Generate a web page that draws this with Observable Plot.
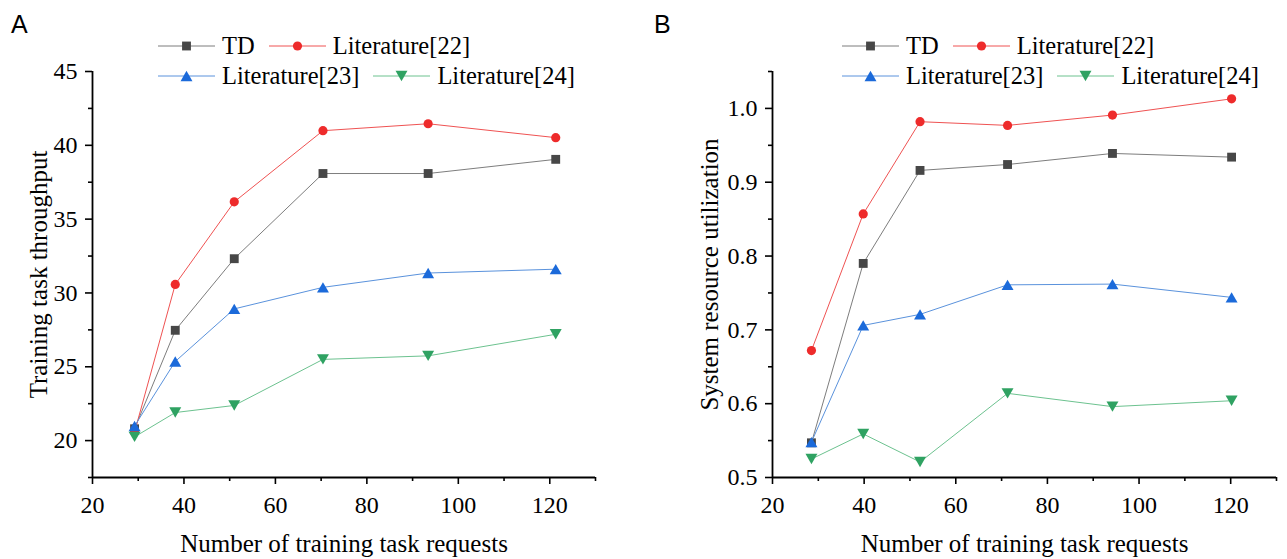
<!DOCTYPE html>
<html><head><meta charset="utf-8">
<script src="https://cdn.jsdelivr.net/npm/d3@7"></script>
<script src="https://cdn.jsdelivr.net/npm/@observablehq/plot@0.6"></script>
<style>
body{margin:0;background:#fff;}
#wrap{position:relative;width:1287px;height:559px;overflow:hidden;background:#fff;}
.panel{position:absolute;top:0;height:559px;}
#wrap svg text{font-family:"Liberation Serif","Times New Roman",serif !important;}
.tag{position:absolute;top:12px;font-family:"Liberation Sans",Arial,sans-serif;font-size:25px;line-height:1;color:#000;}
.legend{position:absolute;top:31px;font-family:"Liberation Serif","Times New Roman",serif;font-size:24.5px;line-height:1;color:#000;}
.legend span{font-family:"Liberation Serif","Times New Roman",serif !important;}
.row{display:flex;align-items:center;height:30px;white-space:nowrap;}
.item{display:flex;align-items:center;margin-right:14px;}
.item svg{margin-right:7px;display:block;}
</style></head><body><div id="wrap"></div>
<script>
// ---------- data ----------
const seriesNames = ["TD", "Literature[22]", "Literature[23]", "Literature[24]"];
const legendRows = [["TD", "Literature[22]"], ["Literature[23]", "Literature[24]"]];

// Panel A: training task throughput
const xA = [29.2, 38.1, 51.0, 70.4, 93.4, 121.3];
const tdA = [20.8, 27.47, 32.32, 38.09, 38.09, 39.05];
const lit22A = [20.58, 30.58, 36.17, 40.99, 41.46, 40.52];
const lit23A = [20.99, 25.36, 28.92, 30.38, 31.35, 31.61];
const lit24A = [20.25, 21.9, 22.38, 25.5, 25.74, 27.2];

// Panel B: system resource utilization
const xB = [28.5, 39.8, 52.2, 71.3, 94.2, 120.2];
const tdB = [0.547, 0.790, 0.916, 0.924, 0.939, 0.934];
const lit22B = [0.672, 0.857, 0.982, 0.977, 0.991, 1.013];
const lit23B = [0.548, 0.706, 0.721, 0.761, 0.762, 0.744];
const lit24B = [0.525, 0.559, 0.521, 0.614, 0.596, 0.604];

// axes
const xDomain = [20, 130];
const xMajor = [20, 40, 60, 80, 100, 120];
const xMinor = [30, 50, 70, 90, 110, 130];
const yDomainA = [17.5, 45];
const yMajorA = [20, 25, 30, 35, 40, 45];
const yMinorA = [17.5, 22.5, 27.5, 32.5, 37.5, 42.5];
const yDomainB = [0.5, 1.05];
const yMajorB = [0.5, 0.6, 0.7, 0.8, 0.9, 1.0];
const yMinorB = [0.55, 0.65, 0.75, 0.85, 0.95, 1.05];

const xTitle = "Number of training task requests";
const yTitleA = "Training task throughput";
const yTitleB = "System resource utilization";
const panelTags = ["A", "B"];

// ---------- styles ----------
const triUp = {draw(ctx, size){const s=Math.sqrt(size),w=0.75*s,h=0.65*s;ctx.moveTo(0,-h);ctx.lineTo(w,h);ctx.lineTo(-w,h);ctx.closePath();}};
const triDown = {draw(ctx, size){const s=Math.sqrt(size),w=0.75*s,h=0.65*s;ctx.moveTo(0,h);ctx.lineTo(w,-h);ctx.lineTo(-w,-h);ctx.closePath();}};
const style = {
  "TD": {fill:"#474747", line:"#7d7d7d", symbol:"square", d3sym:d3.symbolSquare, r:5.0},
  "Literature[22]": {fill:"#ee2b2b", line:"#ef5252", symbol:"circle", d3sym:d3.symbolCircle, r:4.6},
  "Literature[23]": {fill:"#1b6ada", line:"#5a92dc", symbol:triUp, d3sym:triUp, r:4.5},
  "Literature[24]": {fill:"#2fa262", line:"#6cc28f", symbol:triDown, d3sym:triDown, r:4.5}
};
const FONT = '"Liberation Serif","Times New Roman",serif';

function rows(xs, ys){ return ys.map((arr, i) => arr.map((v, j) => ({series: seriesNames[i], x: xs[j], y: v}))); }

function makePanel({left, width, marginLeft, marginRight, yDomain, yMajor, yMinor, yFmt, data, yTitle, yTitleDx, tag, legendLeft}){
  const marks = [];
  marks.push(Plot.axisY(yMinor, {tickSize:4, tickFormat:()=>"", label:null, stroke:"#000", strokeWidth:1.6}));
  marks.push(Plot.axisY(yMajor, {tickSize:7, tickPadding:8, tickFormat:yFmt, label:null, stroke:"#000", strokeWidth:1.6, fill:"#000", fontSize:24, fontFamily:FONT}));
  marks.push(Plot.axisX(xMinor, {tickSize:4, tickFormat:()=>"", label:null, stroke:"#000", strokeWidth:1.6}));
  marks.push(Plot.axisX(xMajor, {tickSize:7, tickPadding:11, tickFormat:d=>String(d), label:null, stroke:"#000", strokeWidth:1.6, fill:"#000", fontSize:24, fontFamily:FONT}));
  marks.push(Plot.ruleX([xDomain[0]], {stroke:"#000", strokeWidth:1.8}));
  marks.push(Plot.ruleY([yDomain[0]], {stroke:"#000", strokeWidth:1.8}));
  data.forEach(s => {
    const st = style[s[0].series];
    marks.push(Plot.line(s, {x:"x", y:"y", stroke:st.line, strokeWidth:1}));
    marks.push(Plot.dot(s, {x:"x", y:"y", symbol:st.symbol, r:st.r, fill:st.fill, stroke:"none"}));
  });
  marks.push(Plot.text([xTitle], {text:d=>d, frameAnchor:"bottom", dy:66, lineAnchor:"middle", fontSize:25, fontFamily:FONT, fill:"#000"}));
  marks.push(Plot.text([yTitle], {text:d=>d, frameAnchor:"left", rotate:-90, dx:yTitleDx, lineAnchor:"middle", textAnchor:"middle", fontSize:25, fontFamily:FONT, fill:"#000"}));

  const svg = Plot.plot({
    width, height:559, marginLeft, marginRight, marginTop:71, marginBottom:82,
    x:{domain:xDomain}, y:{domain:yDomain},
    style:`font-family:${FONT};font-size:24px;color:#000;background:transparent;overflow:visible;`,
    marks
  });
  const div = document.createElement("div");
  div.className = "panel";
  div.style.left = left + "px";
  div.style.width = width + "px";
  div.appendChild(svg);
  document.getElementById("wrap").appendChild(div);

  const t = document.createElement("div");
  t.className = "tag"; t.textContent = tag;
  t.style.left = (left + 11) + "px";
  document.getElementById("wrap").appendChild(t);

  const lg = document.createElement("div");
  lg.className = "legend";
  lg.style.left = legendLeft + "px";
  legendRows.forEach(r => {
    const row = document.createElement("div"); row.className = "row";
    r.forEach(name => {
      const st = style[name];
      const it = document.createElement("div"); it.className = "item";
      const path = d3.symbol().type(st.d3sym).size(st.r*st.r*Math.PI)();
      it.innerHTML = `<svg width="57" height="20" viewBox="0 0 57 20"><line x1="0" x2="57" y1="10" y2="10" stroke="${st.line}" stroke-width="1"/><path transform="translate(28.5,10)" d="${path}" fill="${st.fill}"/></svg>`;
      const sp = document.createElement("span"); sp.textContent = name;
      it.appendChild(sp);
      row.appendChild(it);
    });
    lg.appendChild(row);
  });
  document.getElementById("wrap").appendChild(lg);
}

makePanel({left:0, width:643, marginLeft:92, marginRight:48, yDomain:yDomainA, yMajor:yMajorA, yMinor:yMinorA,
  yFmt:d=>String(d), data:rows(xA, [tdA, lit22A, lit23A, lit24A]), yTitle:yTitleA, yTitleDx:-54, tag:panelTags[0], legendLeft:158});
makePanel({left:643, width:644, marginLeft:129, marginRight:11, yDomain:yDomainB, yMajor:yMajorB, yMinor:yMinorB,
  yFmt:d3.format(".1f"), data:rows(xB, [tdB, lit22B, lit23B, lit24B]), yTitle:yTitleB, yTitleDx:-63, tag:panelTags[1], legendLeft:842});
</script></body></html>
